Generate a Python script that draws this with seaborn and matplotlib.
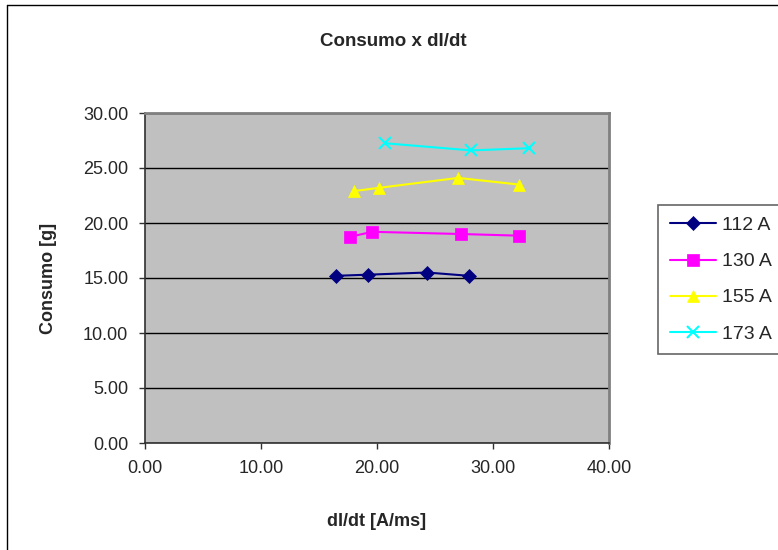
import pandas as pd
import matplotlib
matplotlib.use("Agg")
import matplotlib.pyplot as plt
import seaborn as sns
from matplotlib.lines import Line2D

# dados
series = ['112 A', '130 A', '155 A', '173 A']
didt_112 = [16.5, 19.2, 24.3, 27.9]
cons_112 = [15.2, 15.3, 15.5, 15.2]
didt_130 = [17.7, 19.6, 27.2, 32.2]
cons_130 = [18.75, 19.2, 19.0, 18.85]
didt_155 = [18.0, 20.2, 27.0, 32.2]
cons_155 = [22.9, 23.2, 24.1, 23.5]
didt_173 = [20.7, 28.1, 33.1]
cons_173 = [27.25, 26.6, 26.8]

xs = [didt_112, didt_130, didt_155, didt_173]
ys = [cons_112, cons_130, cons_155, cons_173]

df = pd.concat([pd.DataFrame({'dIdt': x, 'Consumo': y, 'serie': s})
                for s, x, y in zip(series, xs, ys)], ignore_index=True)

cores = {'112 A': '#000080', '130 A': '#FF00FF', '155 A': '#FFFF00', '173 A': '#00FFFF'}
marcadores = {'112 A': 'D', '130 A': 's', '155 A': '^', '173 A': 'x'}
tamanhos = {'112 A': 7, '130 A': 9, '155 A': 9, '173 A': 9}

sns.set_style('white')
plt.rcParams['font.family'] = ['Liberation Sans', 'DejaVu Sans']

fig = plt.figure(figsize=(7.78, 5.5), dpi=100)
ax = fig.add_axes([145 / 778, 1 - 443 / 550, 464 / 778, 330 / 550])
ax.set_facecolor('#C0C0C0')

for s in series:
    sub = df[df['serie'] == s]
    sns.lineplot(data=sub, x='dIdt', y='Consumo', ax=ax, color=cores[s],
                 marker=marcadores[s], markersize=tamanhos[s],
                 mec=cores[s], mfc=cores[s], mew=1.5 if s == '173 A' else 0.5,
                 linewidth=1.5, sort=False, label=s, legend=False)

ax.set_xlim(0, 40)
ax.set_ylim(0, 30)
ax.set_xticks([0, 10, 20, 30, 40])
ax.set_yticks([0, 5, 10, 15, 20, 25, 30])
ax.set_xticklabels([f'{v:.2f}' for v in ax.get_xticks()])
ax.set_yticklabels([f'{v:.2f}' for v in ax.get_yticks()])
ax.tick_params(axis='both', direction='out', length=4, width=1, color='#303030',
               labelsize=13, pad=8, left=True, bottom=True)
ax.yaxis.grid(True, color='black', linewidth=1)
ax.set_axisbelow(True)

for lado in ['left', 'bottom']:
    ax.spines[lado].set_color('#303030')
    ax.spines[lado].set_linewidth(1.2)
for lado in ['top', 'right']:
    ax.spines[lado].set_color('#808080')
    ax.spines[lado].set_linewidth(2)
    ax.spines[lado].set_visible(True)

ax.set_xlabel('dI/dt [A/ms]', fontsize=13, fontweight='bold', labelpad=26)
ax.set_ylabel('Consumo [g]', fontsize=13, fontweight='bold', labelpad=19)
fig.text(393 / 778, 1 - 42 / 550, 'Consumo x dI/dt', ha='center', va='center',
         fontsize=13.5, fontweight='bold')

handles = [Line2D([], [], color=cores[s], marker=marcadores[s], markersize=tamanhos[s],
                  mec=cores[s], mfc=cores[s], mew=1.5 if s == '173 A' else 0.5,
                  linewidth=1.5) for s in series]
leg = fig.legend(handles, series, loc='upper left',
                 bbox_to_anchor=(658 / 778, 1 - 205 / 550), fontsize=14,
                 frameon=True, fancybox=False, borderaxespad=0,
                 handlelength=2.4, handletextpad=0.3, labelspacing=0.95,
                 borderpad=0.6)
leg.get_frame().set_edgecolor('#404040')
leg.get_frame().set_linewidth(1.2)

# moldura externa do gráfico
fig.add_artist(Line2D([7 / 778, 7 / 778], [0, 1 - 5 / 550], color='black', linewidth=1,
                      transform=fig.transFigure))
fig.add_artist(Line2D([7 / 778, 1], [1 - 5 / 550, 1 - 5 / 550], color='black', linewidth=1,
                      transform=fig.transFigure))

fig.savefig('out.png', dpi=100)
